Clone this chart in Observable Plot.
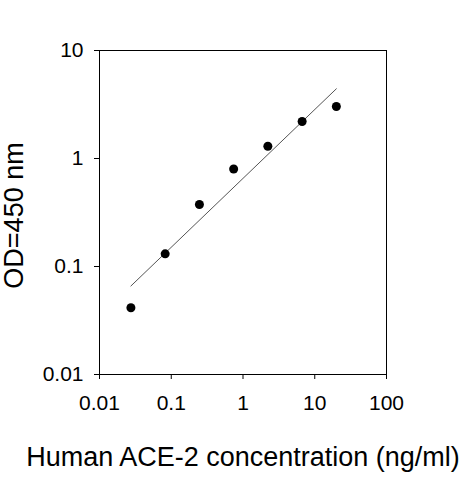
<!DOCTYPE html>
<html><head>
<meta charset="utf-8">
<script src="https://cdn.jsdelivr.net/npm/d3@7"></script>
<script src="https://cdn.jsdelivr.net/npm/@observablehq/plot@0.6"></script>
<style>body{margin:0;background:#fff}</style>
</head><body><div id="chart"></div>
<script>
const concentration = [0.0274, 0.0823, 0.247, 0.741, 2.22, 6.67, 20];
const od450 = [0.0415, 0.131, 0.375, 0.80, 1.30, 2.20, 3.03];
const fitConcentration = [0.0274, 20];
const fitOd = [0.066, 4.42];
const xTicks = [0.01, 0.1, 1, 10, 100];
const yTicks = [0.01, 0.1, 1, 10];
const xTitle = "Human ACE-2 concentration (ng/ml)";
const yTitle = "OD=450 nm";

const points = concentration.map((c, i) => ({c, od: od450[i]}));
const fit = fitConcentration.map((c, i) => ({c, od: fitOd[i]}));

const chart = Plot.plot({
  width: 463, height: 480,
  marginLeft: 99, marginRight: 77, marginTop: 50, marginBottom: 106,
  style: {fontFamily: "'Liberation Sans', Arial, sans-serif", fontSize: "21px", color: "#000", background: "#fff"},
  x: {type: "log", domain: [0.01, 100]},
  y: {type: "log", domain: [0.01, 10]},
  marks: [
    Plot.frame({stroke: "#000", strokeWidth: 1}),
    Plot.axisX({ticks: xTicks, tickFormat: d => String(d), tickSize: 5, tickPadding: 16, label: null, fontSize: 21, stroke: "#000"}),
    Plot.axisY({ticks: yTicks, tickFormat: d => String(d), tickSize: 5, tickPadding: 11, label: null, fontSize: 21, stroke: "#000"}),
    Plot.line(fit, {x: "c", y: "od", stroke: "#555", strokeWidth: 1}),
    Plot.dot(points, {x: "c", y: "od", r: 4.5, fill: "#000", stroke: "none"}),
    Plot.text([xTitle], {text: d => d, frameAnchor: "bottom", textAnchor: "middle", lineAnchor: "middle", dy: 83, fontSize: 27, fill: "#000"}),
    Plot.text([yTitle], {text: d => d, frameAnchor: "left", textAnchor: "middle", lineAnchor: "middle", rotate: -90, dx: -85, dy: 3, fontSize: 27, fill: "#000"})
  ]
});
document.getElementById("chart").appendChild(chart);
</script>
</body></html>
